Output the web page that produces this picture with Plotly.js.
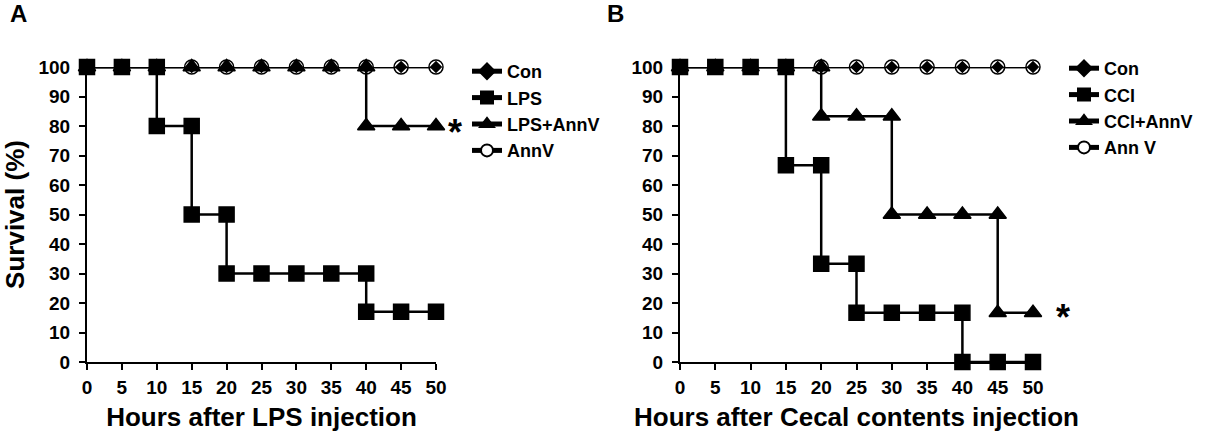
<!DOCTYPE html>
<html>
<head>
<meta charset="utf-8">
<script src="https://cdn.plot.ly/plotly-3.0.1.min.js"></script>
<style>html,body{margin:0;padding:0;background:#fff;}#chart{width:1211px;height:432px;}</style>
</head>
<body>
<div id="chart"></div>
<script>
// ---- Panel A data (hours after LPS injection, survival %) ----
const hoursA = [0, 5, 10, 15, 20, 25, 30, 35, 40, 45, 50];
const conA = [100, 100, 100, 100, 100, 100, 100, 100, 100, 100, 100];
const annvA = [100, 100, 100, 100, 100, 100, 100, 100, 100, 100, 100];
const lpsX = [0, 5, 10, 10, 15, 15, 20, 20, 25, 30, 35, 40, 40, 45, 50];
const lpsY = [100, 100, 100, 80, 80, 50, 50, 30, 30, 30, 30, 30, 17, 17, 17];
const lpsAnnvX = [0, 5, 10, 15, 20, 25, 30, 35, 40, 40, 45, 50];
const lpsAnnvY = [100, 100, 100, 100, 100, 100, 100, 100, 100, 80, 80, 80];

// ---- Panel B data (hours after cecal contents injection, survival %) ----
const hoursB = [0, 5, 10, 15, 20, 25, 30, 35, 40, 45, 50];
const conB = [100, 100, 100, 100, 100, 100, 100, 100, 100, 100, 100];
const annvB = [100, 100, 100, 100, 100, 100, 100, 100, 100, 100, 100];
const cclX = [0, 5, 10, 15, 15, 20, 20, 25, 25, 30, 35, 40, 40, 45, 50];
const cclY = [100, 100, 100, 100, 66.7, 66.7, 33.3, 33.3, 16.7, 16.7, 16.7, 16.7, 0, 0, 0];
const cclAnnvX = [0, 5, 10, 15, 20, 20, 25, 30, 30, 35, 40, 45, 45, 50];
const cclAnnvY = [100, 100, 100, 100, 100, 83.3, 83.3, 83.3, 50, 50, 50, 50, 16.7, 16.7];

const xTicks = [0, 5, 10, 15, 20, 25, 30, 35, 40, 45, 50];
const yTicks = [0, 10, 20, 30, 40, 50, 60, 70, 80, 90, 100];

const FONT = "Liberation Sans, Arial, sans-serif";
const W = 1211, H = 432;
const LW = 2.5;

function tr(x, y, name, symbol, size, xa, ya, leg, rank, fill) {
  return {
    x: x, y: y, name: name, type: 'scatter', mode: 'lines+markers',
    xaxis: xa, yaxis: ya, legend: leg, legendrank: rank, cliponaxis: false,
    line: {color: '#000', width: LW},
    marker: {symbol: symbol, size: size, color: fill || '#000', line: {color: '#000', width: 1.5}}
  };
}

const data = [
  tr(hoursA, annvA, 'AnnV', 'circle', 14, 'x', 'y', 'legend', 4, '#fff'),
  tr(hoursA, conA, 'Con', 'diamond', 8, 'x', 'y', 'legend', 1),
  tr(lpsAnnvX, lpsAnnvY, 'LPS+AnnV', 'triangle-up', 15, 'x', 'y', 'legend', 3),
  tr(lpsX, lpsY, 'LPS', 'square', 15, 'x', 'y', 'legend', 2),
  tr(hoursB, annvB, 'Ann V', 'circle', 14, 'x2', 'y2', 'legend2', 4, '#fff'),
  tr(hoursB, conB, 'Con', 'diamond', 8, 'x2', 'y2', 'legend2', 1),
  tr(cclAnnvX, cclAnnvY, 'CCl+AnnV', 'triangle-up', 15, 'x2', 'y2', 'legend2', 3),
  tr(cclX, cclY, 'CCl', 'square', 15, 'x2', 'y2', 'legend2', 2)
];

const tickFont = {family: FONT, size: 19, color: '#000', weight: 'bold'};
const titleFont = {family: FONT, size: 26, color: '#000', weight: 'bold'};

function xax(domain, title, anchor) {
  return {
    domain: domain, range: [0, 50], anchor: anchor, tickvals: xTicks, ticktext: xTicks.map(String),
    showline: true, linecolor: '#000', linewidth: 2, ticks: 'outside', ticklen: 6, tickwidth: 2,
    tickcolor: '#000', showgrid: false, zeroline: false, tickfont: tickFont, ticklabelstandoff: 1,
    title: {text: title, font: titleFont, standoff: 12}, automargin: false, fixedrange: true
  };
}
function yax(domain, title, anchor) {
  return {
    domain: domain, range: [0, 100], anchor: anchor, tickvals: yTicks, ticktext: yTicks.map(String),
    showline: true, linecolor: '#000', linewidth: 2, ticks: 'outside', ticklen: 6, tickwidth: 2,
    tickcolor: '#000', showgrid: false, zeroline: false, tickfont: tickFont, ticklabelstandoff: 5,
    title: {text: title, font: titleFont, standoff: 20}, automargin: false, fixedrange: true
  };
}

const yDom = [(H - 362) / H, (H - 67) / H];
const legendFont = {family: FONT, size: 18, color: '#000', weight: 'bold'};

const layout = {
  width: W, height: H,
  margin: {l: 0, r: 0, t: 0, b: 0},
  paper_bgcolor: '#fff', plot_bgcolor: '#fff',
  showlegend: true,
  font: {family: FONT, color: '#000'},
  xaxis: xax([87 / W, 436 / W], 'Hours after LPS injection', 'y'),
  yaxis: yax(yDom, 'Survival (%)', 'x'),
  xaxis2: xax([680 / W, 1033 / W], 'Hours after Cecal contents injection', 'y2'),
  yaxis2: yax(yDom, '', 'x2'),
  legend: {x: 467 / W, y: (H - 53) / H, xanchor: 'left', yanchor: 'top', font: legendFont,
           bgcolor: 'rgba(0,0,0,0)', tracegroupgap: 0, itemsizing: 'constant'},
  legend2: {x: 1064 / W, y: (H - 50) / H, xanchor: 'left', yanchor: 'top', font: legendFont,
            bgcolor: 'rgba(0,0,0,0)', tracegroupgap: 0, itemsizing: 'constant'},
  annotations: [
    {text: 'A', xref: 'paper', yref: 'paper', x: 8 / W, y: 1 + 2 / H, xanchor: 'left', yanchor: 'top',
     showarrow: false, font: {family: FONT, size: 24, color: '#000', weight: 'bold'}},
    {text: 'B', xref: 'paper', yref: 'paper', x: 605 / W, y: 1 + 2 / H, xanchor: 'left', yanchor: 'top',
     showarrow: false, font: {family: FONT, size: 24, color: '#000', weight: 'bold'}},
    {text: '*', xref: 'paper', yref: 'paper', x: 455 / W, y: 1 - 110 / H, xanchor: 'center', yanchor: 'top',
     showarrow: false, font: {family: FONT, size: 36, color: '#000', weight: 'bold'}},
    {text: '*', xref: 'paper', yref: 'paper', x: 1063 / W, y: 1 - 295 / H, xanchor: 'center', yanchor: 'top',
     showarrow: false, font: {family: FONT, size: 36, color: '#000', weight: 'bold'}}
  ]
};

Plotly.newPlot('chart', data, layout, {displayModeBar: false, staticPlot: true});
</script>
</body>
</html>
